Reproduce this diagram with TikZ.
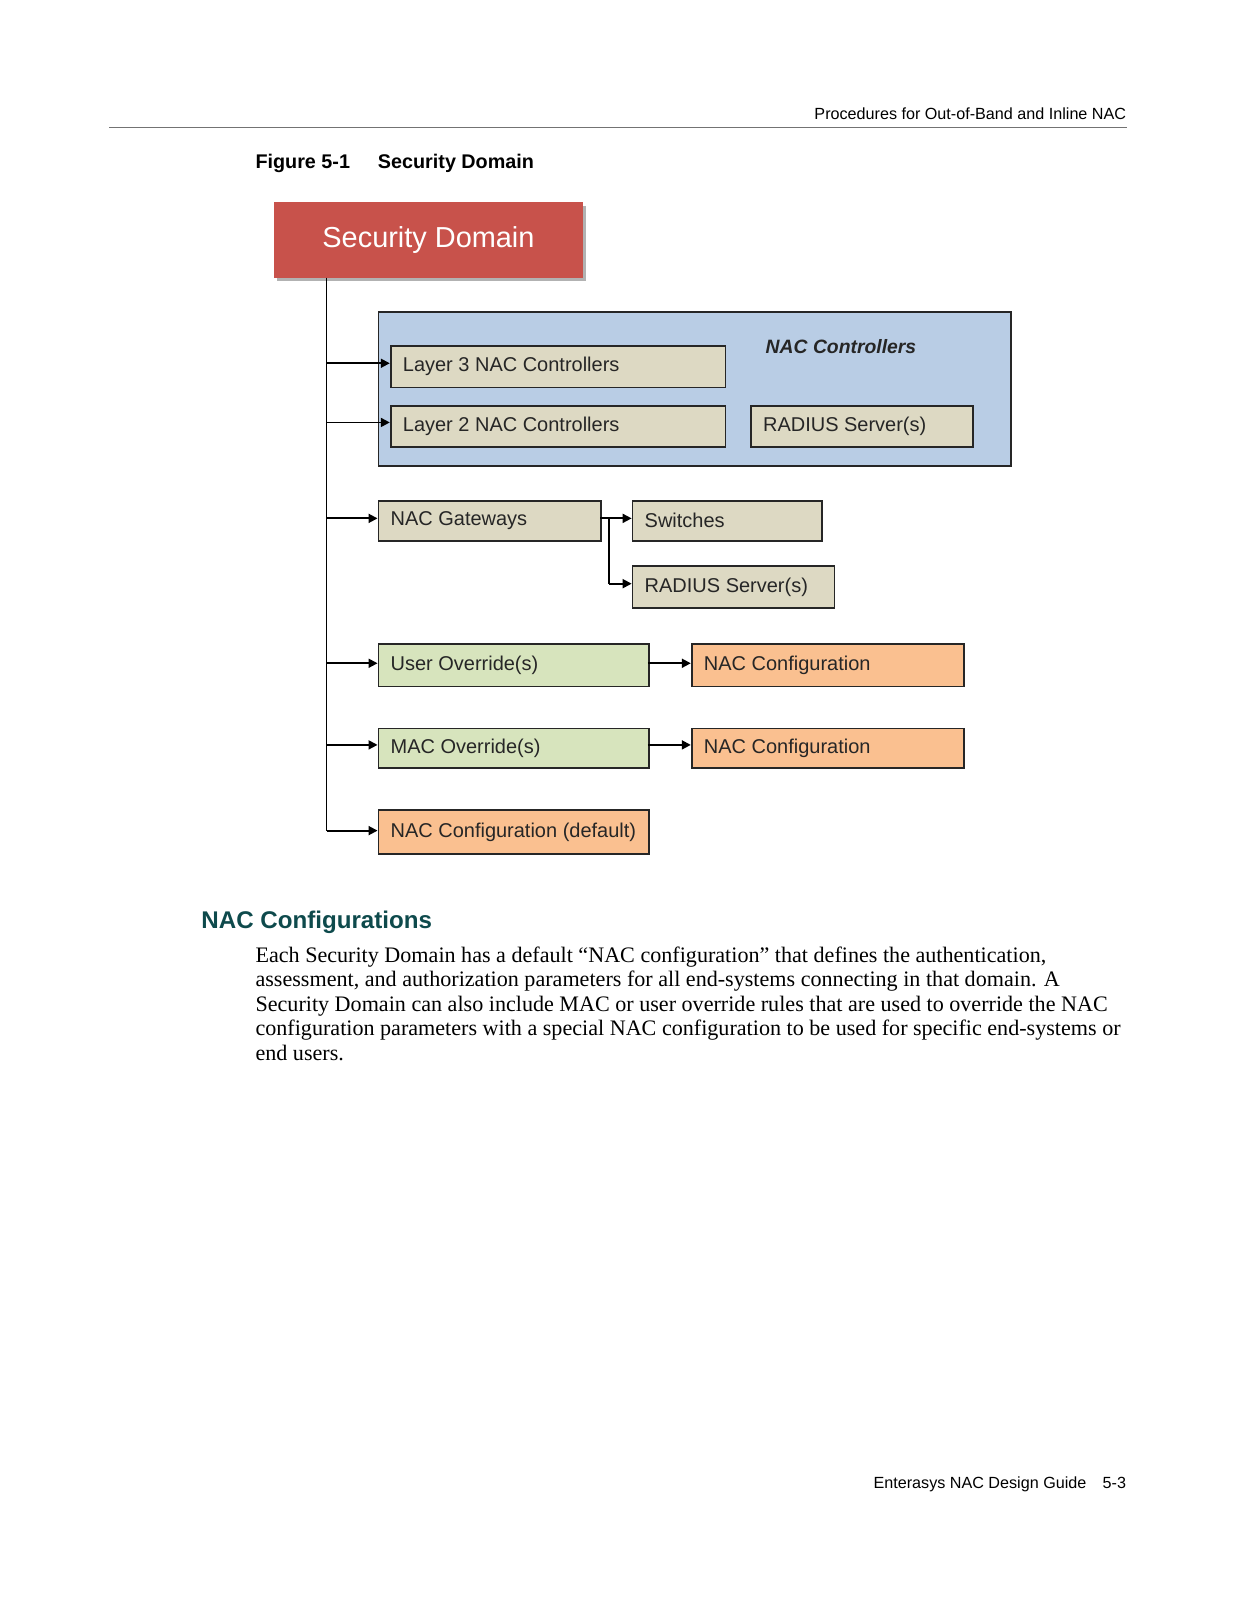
\documentclass[tikz,border=0pt]{standalone}
\usepackage{fontspec}
\setmainfont{Liberation Serif}
\setsansfont{Liberation Sans}
\usetikzlibrary{arrows.meta,shadows}
\definecolor{sdred}{HTML}{C8524B}
\definecolor{ncblue}{HTML}{B9CDE5}
\definecolor{tanbox}{HTML}{DDD9C3}
\definecolor{lgreen}{HTML}{D7E4BD}
\definecolor{lorange}{HTML}{FAC090}
\definecolor{headteal}{HTML}{0E4A4C}
\newlength\pu
\setlength\pu{0.48pt}
\tikzset{
  box/.style={draw=black!85,line width=0.8pt,anchor=north west,inner xsep=12\pu,inner ysep=0pt,align=left,font=\sffamily\fontsize{9.4pt}{11pt}\selectfont,text=black!85},
  arr/.style={draw=black,line width=0.85pt,-{Triangle[length=4.2pt,width=4.2pt]}},
  conn/.style={draw=black,line width=0.85pt},
  txt/.style={inner sep=0pt,anchor=base west},
}
\newcommand\bx[7]{\node[box,fill=#6,minimum width=#4\pu,minimum height=#5\pu] (#1) at (#2,#3) {\makebox[\dimexpr#4\pu-24\pu\relax][l]{#7}};}
\begin{document}
\begin{tikzpicture}[x=0.48pt,y=-0.48pt]
\useasboundingbox (0,0) rectangle (1212.2,1568);
% header
\node[txt,anchor=base east,font=\sffamily\fontsize{7.6pt}{9pt}\selectfont] (hdr) at (1104,117) {Procedures for Out-of-Band and Inline NAC};
\coordinate (rl) at (107,125);
\coordinate (rr) at (1104,125);
\draw[draw=black!55,line width=0.8pt] (rl) -- (rr);
\node[txt,font=\sffamily\bfseries\fontsize{9.3pt}{11pt}\selectfont] (fig) at (250,165) {Figure 5-1};
\node[txt,font=\sffamily\bfseries\fontsize{9.3pt}{11pt}\selectfont] (figt) at (370,165) {Security Domain};
% security domain
\node[anchor=north west,fill=sdred,minimum width=303\pu,minimum height=74\pu,inner sep=0pt,
  drop shadow={shadow xshift=1.6pt,shadow yshift=-1.6pt,fill=black!30,opacity=1},
  text=white,font=\sffamily\fontsize{13.6pt}{16pt}\selectfont] (sd) at (268,198) {Security Domain};
% NAC controllers container
\node[draw=black!85,line width=0.8pt,fill=ncblue,anchor=north west,minimum width=620\pu,minimum height=151\pu,inner sep=0pt] (nc) at (370,305) {};
\node[txt,font=\sffamily\bfseries\itshape\fontsize{9.1pt}{11pt}\selectfont,text=black!85] (nct) at (750,346) {NAC Controllers};
\bx{l3}{382}{338}{328}{41}{tanbox}{Layer 3 NAC Controllers}
\bx{l2}{382}{397}{328}{40}{tanbox}{Layer 2 NAC Controllers}
\bx{rad1}{735}{397}{218}{40}{tanbox}{RADIUS Server(s)}
\bx{gw}{370}{490}{218}{39}{tanbox}{NAC Gateways}
\bx{sw}{619}{490}{186}{39}{tanbox}{Switches}
\bx{rad2}{619}{554}{198}{41}{tanbox}{RADIUS Server(s)}
\bx{uo}{370}{630}{265}{42}{lgreen}{User Override(s)}
\bx{nc1}{677}{630}{267}{42}{lorange}{NAC Configuration}
\bx{mo}{370}{713}{265}{39}{lgreen}{MAC Override(s)}
\bx{nc2}{677}{713}{267}{39}{lorange}{NAC Configuration}
\bx{ncd}{370}{793}{265}{43}{lorange}{NAC Configuration (default)}
% trunk
\coordinate (ttop) at (320,272);
\coordinate (tbot) at (320,814);
\draw[conn] (ttop) -- (tbot);
\coordinate (j1) at (320,356);
\coordinate (j2) at (320,414);
\coordinate (j3) at (320,508);
\coordinate (j4) at (320,650);
\coordinate (j5) at (320,730);
\draw[arr] (j1) -- (j1 -| l3.west);
\draw[arr] (j2) -- (j2 -| l2.west);
\draw[arr] (j3) -- (j3 -| gw.west);
\draw[arr] (j4) -- (j4 -| uo.west);
\draw[arr] (j5) -- (j5 -| mo.west);
\draw[arr] (tbot) -- (tbot -| ncd.west);
% gateway branches
\coordinate (g1) at (588,508);
\coordinate (g2) at (597,508);
\coordinate (g3) at (597,572);
\draw[arr] (g1) -- (g1 -| sw.west);
\draw[conn] (g2) -- (g3);
\draw[arr] (g3) -- (g3 -| rad2.west);
\coordinate (o1) at (635,650);
\coordinate (o2) at (635,730);
\draw[arr] (o1) -- (o1 -| nc1.west);
\draw[arr] (o2) -- (o2 -| nc2.west);
% section
\node[txt,font=\sffamily\bfseries\fontsize{11.35pt}{13pt}\selectfont,text=headteal] (sec) at (197,910) {NAC Configurations};
\begin{scope}[every node/.style={txt,font=\fontsize{10.4pt}{12pt}\selectfont}]
\node (b1) at (250,943) {Each Security Domain has a default “NAC configuration” that defines the authentication,};
\node (b2) at (250,967) {assessment, and authorization parameters for all end-systems connecting in that domain. A};
\node (b3) at (250,991) {Security Domain can also include MAC or user override rules that are used to override the NAC};
\node (b4) at (250,1015) {configuration parameters with a special NAC configuration to be used for specific end-systems or};
\node (b5) at (250,1039) {end users.};
\end{scope}
% footer
\node[txt,anchor=base east,font=\sffamily\fontsize{7.6pt}{9pt}\selectfont] (ft) at (1104,1459) {Enterasys NAC Design Guide\hspace{7.7pt}5-3};
\end{tikzpicture}
\end{document}
